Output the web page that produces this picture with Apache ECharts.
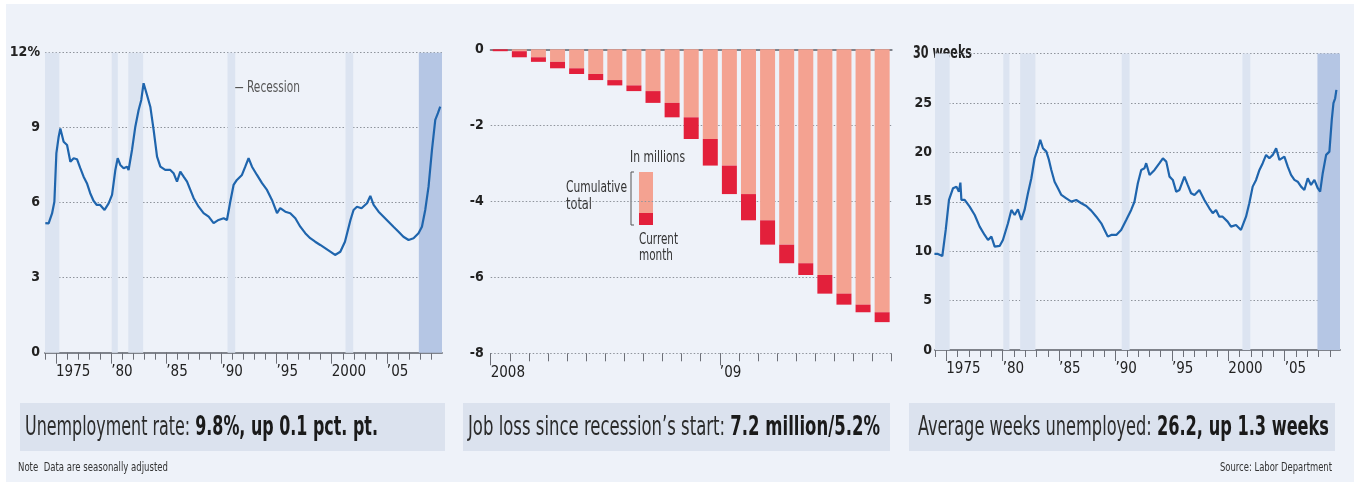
<!DOCTYPE html>
<html>
<head>
<meta charset="utf-8">
<script src="https://cdn.jsdelivr.net/npm/echarts@6/dist/echarts.min.js"></script>
<style>
  html, body { margin: 0; padding: 0; background: #fff; }
  #chart { position: absolute; left: 0; top: 0; width: 1354px; height: 482px; }
</style>
</head>
<body>
<div id="chart"></div>
<script>
'use strict';
// Three WSJ-style panels: unemployment rate / job loss bars / avg weeks unemployed.
const FONT = '"DejaVu Sans Condensed", "DejaVu Sans", sans-serif';
const BG = '#eef2f9';

// ---- data ---------------------------------------------------------------- //
const unempYears = [1974.03, 1974.33, 1974.64, 1974.85, 1975.03, 1975.24, 1975.39, 1975.69, 1976.0, 1976.3,
  1976.6, 1976.9, 1977.2, 1977.5, 1977.8, 1978.1, 1978.4, 1978.7, 1979.0, 1979.4,
  1979.77, 1980.08, 1980.38, 1980.59, 1980.83, 1981.13, 1981.44, 1981.58, 1981.89, 1982.19,
  1982.49, 1982.73, 1982.94, 1983.25, 1983.55, 1983.85, 1984.16, 1984.46, 1984.9, 1985.36,
  1985.66, 1985.97, 1986.27, 1986.57, 1986.88, 1987.18, 1987.48, 1987.93, 1988.38, 1988.84,
  1989.29, 1989.74, 1990.2, 1990.5, 1990.8, 1991.1, 1991.4, 1991.86, 1992.16, 1992.46,
  1992.77, 1993.22, 1993.68, 1994.13, 1994.58, 1995.04, 1995.33, 1995.79, 1996.24, 1996.7,
  1997.15, 1997.6, 1998.05, 1998.5, 1998.96, 1999.4, 1999.87, 2000.3, 2000.78, 2001.2,
  2001.7, 2001.98, 2002.29, 2002.7, 2003.2, 2003.5, 2003.8, 2004.25, 2004.7, 2005.15,
  2005.6, 2006.06, 2006.5, 2006.97, 2007.42, 2007.87, 2008.18, 2008.48, 2008.78, 2009.09,
  2009.39, 2009.63, 2009.84];
const unempRate = [5.18, 5.17, 5.57, 6.04, 7.97, 8.64, 8.97, 8.44, 8.31, 7.64,
  7.78, 7.74, 7.38, 7.04, 6.78, 6.38, 6.08, 5.91, 5.91, 5.71,
  5.97, 6.31, 7.31, 7.78, 7.51, 7.38, 7.44, 7.31, 8.11, 9.04,
  9.71, 10.11, 10.78, 10.31, 9.84, 8.91, 7.84, 7.44, 7.31, 7.31,
  7.18, 6.84, 7.24, 7.04, 6.84, 6.51, 6.18, 5.84, 5.58, 5.44,
  5.18, 5.31, 5.38, 5.31, 6.04, 6.71, 6.91, 7.11, 7.44, 7.78,
  7.44, 7.11, 6.78, 6.51, 6.11, 5.58, 5.78, 5.64, 5.58, 5.38,
  5.04, 4.78, 4.58, 4.44, 4.31, 4.18, 4.04, 3.91, 4.04, 4.44,
  5.31, 5.71, 5.84, 5.78, 5.98, 6.27, 5.91, 5.64, 5.44, 5.24,
  5.04, 4.84, 4.64, 4.51, 4.58, 4.78, 5.04, 5.71, 6.64, 8.11,
  9.31, 9.58, 9.84];

const weeksYears = [1973.95, 1974.26, 1974.65, 1974.95, 1975.24, 1975.6, 1975.9, 1976.12, 1976.25, 1976.34,
  1976.63, 1977.07, 1977.52, 1977.96, 1978.4, 1978.7, 1979.0, 1979.29, 1979.73, 1980.02,
  1980.47, 1980.77, 1981.06, 1981.35, 1981.65, 1981.94, 1982.24, 1982.54, 1982.83, 1983.12,
  1983.33, 1983.57, 1983.87, 1984.1, 1984.31, 1984.6, 1984.9, 1985.2, 1985.64, 1986.08,
  1986.52, 1986.97, 1987.41, 1987.85, 1988.3, 1988.74, 1989.03, 1989.32, 1989.62, 1990.07,
  1990.5, 1990.95, 1991.39, 1991.68, 1991.98, 1992.28, 1992.57, 1992.72, 1993.02, 1993.46,
  1993.9, 1994.2, 1994.5, 1994.79, 1995.08, 1995.38, 1995.67, 1996.11, 1996.4, 1996.7,
  1997.0, 1997.43, 1997.88, 1998.32, 1998.62, 1998.91, 1999.2, 1999.5, 1999.94, 2000.24,
  2000.68, 2001.12, 2001.57, 2001.86, 2002.16, 2002.46, 2002.76, 2003.05, 2003.35, 2003.64,
  2003.94, 2004.24, 2004.53, 2004.97, 2005.27, 2005.56, 2005.86, 2006.15, 2006.45, 2006.74,
  2007.04, 2007.33, 2007.63, 2007.93, 2008.14, 2008.37, 2008.67, 2008.96, 2009.17, 2009.32,
  2009.47, 2009.58];
const weeksValue = [9.72, 9.72, 9.51, 12.15, 15.18, 16.37, 16.53, 16.02, 16.93, 15.18,
  15.18, 14.5, 13.66, 12.48, 11.64, 11.13, 11.47, 10.46, 10.53, 11.13,
  12.82, 14.17, 13.66, 14.24, 13.16, 14.17, 15.86, 17.38, 19.4, 20.41,
  21.26, 20.41, 20.07, 19.23, 18.22, 17.03, 16.37, 15.69, 15.35, 15.01,
  15.18, 14.85, 14.57, 14.1, 13.49, 12.82, 12.15, 11.47, 11.64, 11.64,
  12.15, 13.16, 14.17, 15.0, 16.87, 18.22, 18.39, 18.9, 17.71, 18.22,
  18.9, 19.4, 19.06, 17.54, 17.21, 16.02, 16.19, 17.54, 16.7, 15.86,
  15.69, 16.19, 15.18, 14.34, 13.84, 14.17, 13.49, 13.49, 12.99, 12.48,
  12.65, 12.15, 13.49, 14.85, 16.53, 17.21, 18.22, 18.9, 19.74, 19.4,
  19.74, 20.41, 19.23, 19.57, 18.55, 17.71, 17.21, 17.03, 16.53, 16.19,
  17.38, 16.7, 17.21, 16.37, 16.02, 17.89, 19.74, 20.07, 23.28, 24.97,
  25.47, 26.32];

// recession shading (start, end) in years; the last one is the current recession
const recessions = [[1973.9, 1975.3], [1980.05, 1980.6], [1981.55, 1982.9], [1990.55, 1991.25], [2001.25, 2001.95], [2007.9, 2010.5]];

const jobMonths = ['Jan 2008', 'Feb 2008', 'Mar 2008', 'Apr 2008', 'May 2008', 'Jun 2008', 'Jul 2008',
  'Aug 2008', 'Sep 2008', 'Oct 2008', 'Nov 2008', 'Dec 2008', 'Jan 2009', 'Feb 2009', 'Mar 2009',
  'Apr 2009', 'May 2009', 'Jun 2009', 'Jul 2009', 'Aug 2009', 'Sep 2009'];
// cumulative job loss since the recession's start, millions
const jobCumulative = [-0.05, -0.21, -0.33, -0.50, -0.65, -0.81, -0.95, -1.10, -1.41, -1.79, -2.36,
  -3.06, -3.81, -4.50, -5.14, -5.63, -5.94, -6.43, -6.72, -6.92, -7.18];

const yearLabels = [1975, 1980, 1985, 1990, 1995, 2000, 2005];
const jobTickLabels = { 0: '2008', 12: '\u201909' };

const titles = [
  ['Unemployment rate: ', '9.8%, up 0.1 pct. pt.'],
  ['Job loss since recession\u2019s start: ', '7.2 million/5.2%'],
  ['Average weeks unemployed: ', '26.2, up 1.3 weeks'],
];

// ---- helpers -------------------------------------------------------------- //
const yearTicks = [];
for (let y = 1974; y <= 2009; y++) yearTicks.push(y);
const monthTicks = [];
for (let i = 0; i <= jobMonths.length; i++) monthTicks.push(i);

const AX = '#7f838b';
const TICK = { color: '#6d7078', width: 1 };
const GRIDLINE = { type: [1.5, 2], color: '#8f949c', width: 1 };
const yearFmt = (v) => (v === 1975 || v === 2000 ? String(v) : '\u2019' + String(v).slice(2));
const xLbl = { fontFamily: FONT, fontSize: 15, color: '#222' };
const yLbl = { fontFamily: FONT, fontSize: 14, color: '#222', fontWeight: 'bold' };

// the reference face is very condensed: squeeze graphic texts to their measured widths
const ctx = document.createElement('canvas').getContext('2d');
function textW(str, size, bold) { ctx.font = (bold ? 'bold ' : '') + size + 'px ' + FONT; return ctx.measureText(str).width; }
function label(x, y, text, size, width, extra) {
  const bold = extra && extra.fontWeight === 'bold';
  return { type: 'text', x, y, scaleX: width / textW(text, size, bold),
    style: Object.assign({ text, fontFamily: FONT, fontSize: size, fill: '#333', verticalAlign: 'middle' }, extra || {}) };
}

function bands(max) {
  return recessions.map(([s, e], i) => [
    { xAxis: s, itemStyle: { color: i === recessions.length - 1 ? '#b5c6e4' : '#dce4f1' } },
    { xAxis: Math.min(e, max) },
  ]);
}
function yearAxes(grid, min, max) {
  return [
    { type: 'value', gridIndex: grid, min, max, position: 'bottom',
      axisLine: { show: true, onZero: false, lineStyle: { color: AX, width: 2 } },
      axisTick: { show: true, customValues: yearTicks, length: 7, lineStyle: TICK },
      axisLabel: { show: false }, splitLine: { show: false } },
    { type: 'value', gridIndex: grid, min, max, position: 'bottom',
      axisLine: { show: false, onZero: false },
      axisTick: { show: true, customValues: yearLabels, length: 11, lineStyle: TICK },
      axisLabel: Object.assign({ customValues: yearLabels, formatter: yearFmt, align: 'left', margin: 12 }, xLbl),
      splitLine: { show: false } },
  ];
}
function line(xi, yi, xs, ys, max) {
  return {
    type: 'line', xAxisIndex: xi, yAxisIndex: yi, showSymbol: false, symbol: 'none',
    data: xs.map((x, i) => [x, ys[i]]),
    lineStyle: { color: '#1f65ad', width: 2.2 }, z: 5,
    markArea: { silent: true, data: bands(max) },
  };
}

const prevTotal = jobCumulative.map((v, i) => (i === 0 ? 0 : jobCumulative[i - 1]));
const monthLoss = jobCumulative.map((v, i) => +(v - prevTotal[i]).toFixed(2));

// ---- graphic overlay (boxes, legend, notes) ------------------------------ //
const boxes = [[20, 425, 25, 353], [463, 427, 468, 412], [909, 426, 918, 411]];
const TS = 26;
const graphics = [
  { type: 'rect', z: -10, shape: { x: 6, y: 4, width: 1348, height: 478 }, style: { fill: BG } },
];
titles.forEach(([a, b], i) => {
  const [x, w, tx, tw] = boxes[i];
  const full = textW(a, TS, false) + textW(b, TS, true);
  graphics.push({ type: 'rect', z: -5, shape: { x, y: 403, width: w, height: 48 }, style: { fill: '#dbe2ee' } });
  graphics.push({ type: 'text', x: tx, y: 428, scaleX: tw / full,
    style: { text: `{a|${a}}{b|${b}}`, verticalAlign: 'middle',
      rich: { a: { fontFamily: FONT, fontSize: TS, fill: '#2b2b2b' }, b: { fontFamily: FONT, fontSize: TS, fontWeight: 'bold', fill: '#1a1a1a' } } } });
});
graphics.push(
  label(233, 88, '\u2014 Recession', 16, 67, { fill: '#555' }),
  label(18, 468, 'Note  Data are seasonally adjusted', 12, 150),
  label(1332, 468, 'Source: Labor Department', 12, 112, { align: 'right' }),
  // "30 weeks" sits on the top gridline of the right panel
  { type: 'rect', shape: { x: 910, y: 45, width: 64, height: 18 }, style: { fill: BG } },
  label(913, 54, '30 weeks', 17, 59, { fontWeight: 'bold', fill: '#222' }),
  // job-loss legend
  { type: 'rect', shape: { x: 560, y: 197, width: 104, height: 8 }, style: { fill: BG } },
  label(630, 158, 'In millions', 15, 55),
  { type: 'rect', shape: { x: 639, y: 172, width: 14, height: 41 }, style: { fill: '#f4a291' } },
  { type: 'rect', shape: { x: 639, y: 213, width: 14, height: 12 }, style: { fill: '#e3203b' } },
  { type: 'polyline', shape: { points: [[634, 172], [631, 172], [631, 225], [634, 225]] }, style: { stroke: '#555', lineWidth: 1, fill: null } },
  label(566, 188, 'Cumulative', 15, 61),
  label(566, 205, 'total', 15, 26),
  label(639, 240, 'Current', 15, 39),
  label(639, 256, 'month', 15, 34),
);

// ---- chart ---------------------------------------------------------------- //
const chart = echarts.init(document.getElementById('chart'));
chart.setOption({
  backgroundColor: '#fff',
  animation: false,
  textStyle: { fontFamily: FONT },
  grid: [
    { left: 45, top: 52.7, width: 397, height: 300 },
    { left: 490.7, top: 49.3, width: 401, height: 304 },
    { left: 935, top: 53.5, width: 405, height: 296.5 },
  ],
  xAxis: [
    ...yearAxes(0, 1974, 2010),
    { type: 'category', gridIndex: 1, data: jobMonths,
      axisLine: { show: true, onZero: true, lineStyle: { color: AX, width: 2 } },
      axisTick: { show: false }, axisLabel: { show: false }, splitLine: { show: false } },
    { type: 'value', gridIndex: 1, min: 0, max: jobMonths.length, position: 'bottom',
      axisLine: { show: false, onZero: false },
      axisTick: { show: true, customValues: monthTicks, length: 8, lineStyle: TICK },
      axisLabel: { show: false }, splitLine: { show: false } },
    { type: 'value', gridIndex: 1, min: 0, max: jobMonths.length, position: 'bottom',
      axisLine: { show: false, onZero: false },
      axisTick: { show: true, customValues: [0, 12], length: 12, lineStyle: TICK },
      axisLabel: Object.assign({ customValues: [0, 12], formatter: (v) => jobTickLabels[v] || '', align: 'left', margin: 12 }, xLbl),
      splitLine: { show: false } },
    ...yearAxes(2, 1974, 2009.9),
  ],
  yAxis: [
    { type: 'value', gridIndex: 0, min: 0, max: 12, interval: 3,
      axisLine: { show: false }, axisTick: { show: false }, splitLine: { show: true, lineStyle: GRIDLINE },
      axisLabel: Object.assign({ formatter: (v) => (v === 12 ? '12%' : String(v)), margin: 5 }, yLbl) },
    { type: 'value', gridIndex: 1, min: -8, max: 0, interval: 2,
      axisLine: { show: false }, axisTick: { show: false }, splitLine: { show: true, lineStyle: GRIDLINE },
      axisLabel: Object.assign({ margin: 7 }, yLbl) },
    { type: 'value', gridIndex: 2, min: 0, max: 30, interval: 5,
      axisLine: { show: false }, axisTick: { show: false }, splitLine: { show: true, lineStyle: GRIDLINE },
      axisLabel: Object.assign({ formatter: (v) => (v === 30 ? '' : String(v)), margin: 3 }, yLbl) },
  ],
  series: [
    line(0, 0, unempYears, unempRate, 2010),
    { type: 'bar', name: 'Cumulative total', xAxisIndex: 2, yAxisIndex: 1, stack: 'jobs', barWidth: 15,
      data: prevTotal, itemStyle: { color: '#f4a291' } },
    { type: 'bar', name: 'Current month', xAxisIndex: 2, yAxisIndex: 1, stack: 'jobs', barWidth: 15,
      data: monthLoss, itemStyle: { color: '#e3203b' } },
    line(5, 2, weeksYears, weeksValue, 2009.9),
  ],
  graphic: graphics,
});
</script>
</body>
</html>
